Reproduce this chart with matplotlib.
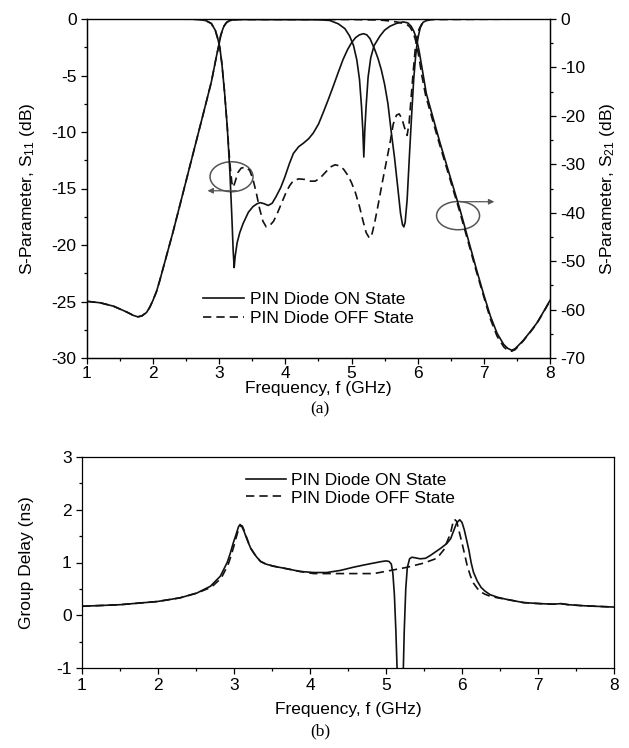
import matplotlib
matplotlib.use("Agg")
import matplotlib.pyplot as plt
from matplotlib.patches import Ellipse

plt.rcParams['font.family'] = ['Liberation Sans', 'DejaVu Sans']
plt.rcParams['mathtext.fontset'] = 'custom'
plt.rcParams['mathtext.rm'] = 'Liberation Sans'
plt.rcParams['mathtext.default'] = 'regular'
plt.rcParams['axes.unicode_minus'] = False

# ---- (a) S-parameters ----
# S11, read on the left axis (dB)
f_s11_on = [1.0, 2.0, 2.6, 2.7, 2.8, 2.88, 2.94, 2.98, 3.01, 3.04, 3.08, 3.12, 3.16, 3.19,
            3.21, 3.225, 3.24, 3.27, 3.31, 3.36, 3.44, 3.51, 3.57, 3.62, 3.68, 3.74, 3.8,
            3.86, 3.93, 3.99, 4.06, 4.12, 4.2, 4.27, 4.35, 4.42, 4.5, 4.57, 4.65, 4.72,
            4.8, 4.87, 4.94, 5.0, 5.06, 5.12, 5.18, 5.23, 5.28, 5.35, 5.4, 5.45, 5.5,
            5.55, 5.6, 5.65, 5.7, 5.74, 5.77, 5.79, 5.81, 5.84, 5.88, 5.91, 5.94, 5.97,
            5.99, 6.01, 6.04, 6.08, 6.14, 6.25, 8.0]
s11_on = [0, 0, -0.02, -0.05, -0.15, -0.4, -1.0, -1.8, -2.6, -4, -6.5, -9.5, -13.5, -17.5,
          -20.5, -22, -21, -19.8, -18.9, -18.1, -17.1, -16.6, -16.35, -16.25, -16.35, -16.5, -16.3,
          -15.7, -14.9, -14, -12.8, -11.9, -11.3, -11, -10.6, -10.1, -9.3, -8.3, -7.1, -6,
          -4.7, -3.6, -2.7, -2.1, -1.65, -1.4, -1.3, -1.4, -1.75, -2.7, -3.5, -4.5, -5.8,
          -7.5, -10, -12.3, -15, -17.2, -18.2, -18.4, -18, -16, -11.5, -8.3, -5.3, -3.2,
          -2.2, -1.5, -0.75, -0.3, -0.1, -0.02, 0]

f_s11_off = [1.0, 2.0, 2.6, 2.7, 2.8, 2.88, 2.94, 2.98, 3.01, 3.04, 3.08, 3.12, 3.16, 3.19,
             3.21, 3.24, 3.28, 3.33, 3.4, 3.46, 3.51, 3.56, 3.61, 3.66, 3.71, 3.76, 3.82,
             3.87, 3.92, 3.97, 4.02, 4.07, 4.12, 4.2, 4.3, 4.38, 4.45, 4.52, 4.6, 4.68,
             4.75, 4.82, 4.88, 4.94, 5.0, 5.06, 5.12, 5.17, 5.22, 5.27, 5.31, 5.35, 5.4,
             5.47, 5.53, 5.58, 5.63, 5.68, 5.72, 5.76, 5.8, 5.84, 5.87, 5.9, 5.93, 5.96,
             5.99, 6.02, 6.06, 6.1, 6.2, 8.0]
s11_off = [0, 0, -0.02, -0.05, -0.15, -0.4, -1.0, -1.8, -2.6, -4, -6.5, -9.5, -12.8, -14.5,
           -14.9, -14.4, -13.6, -13.2, -13.1, -13.4, -14.2, -15.4, -16.8, -17.9, -18.4, -18.3, -17.9,
           -17.3, -16.6, -15.9, -15.2, -14.7, -14.3, -14.15, -14.2, -14.35, -14.35, -14.1, -13.6, -13.1,
           -12.9, -13.0, -13.3, -13.8, -14.5, -15.4, -16.6, -17.8, -18.9, -19.4, -19.0, -18.0, -16.5,
           -14.3, -12.5, -11, -9.3, -8.5, -8.4, -8.8, -9.6, -10.3, -9.2, -7, -4.8, -2.8,
           -1.6, -0.9, -0.45, -0.2, -0.05, 0]

# S21, read on the right axis (dB)
f_s21_on = [1.0, 1.2, 1.4, 1.6, 1.7, 1.77, 1.83, 1.9, 1.95, 2.0, 2.05, 2.1, 2.15, 2.3,
            2.45, 2.6, 2.75, 2.88, 2.96, 3.0, 3.02, 3.05, 3.07, 3.1, 3.12, 3.16, 3.2, 3.3,
            4.5, 4.67, 4.8, 4.9, 4.97, 5.03, 5.08, 5.12, 5.15, 5.17, 5.185, 5.2, 5.22, 5.25,
            5.29, 5.34, 5.43, 5.5, 5.58, 5.68, 5.78, 5.85, 5.9, 5.94, 5.98, 6.02, 6.07, 6.13,
            6.34, 6.64, 6.89, 7.0, 7.1, 7.2, 7.3, 7.36, 7.42, 7.47, 7.53, 7.6, 7.7, 7.8,
            7.9, 8.0]
s21_on = [-58.3, -58.6, -59.3, -60.5, -61.2, -61.5, -61.3, -60.6, -59.5, -58, -56.3, -54, -51.5, -44,
          -36, -28, -20, -13, -7.5, -5, -3.5, -2.2, -1.5, -0.9, -0.6, -0.35, -0.2, -0.1,
          -0.15, -0.3, -1.0, -2.0, -3.5, -5.5, -8.5, -12.5, -18, -23, -28.5, -23, -18, -12,
          -8, -5.5, -3.5, -2.3, -1.5, -0.9, -0.6, -0.8, -1.5, -2.5, -4, -6.5, -10.5, -15.4,
          -25.7, -39.4, -51.8, -57, -61.4, -64.9, -67.2, -68.0, -68.4, -68.1, -67.3, -66.3, -64.6, -62.8,
          -60.5, -58.1]

f_s21_off = [1.0, 1.2, 1.4, 1.6, 1.7, 1.77, 1.83, 1.9, 1.95, 2.0, 2.05, 2.1, 2.15, 2.3,
             2.45, 2.6, 2.75, 2.88, 2.96, 3.0, 3.02, 3.05, 3.07, 3.1, 3.12, 3.16, 3.2, 3.3,
             5.0, 5.4, 5.5, 5.6, 5.7, 5.78, 5.84, 5.88, 5.92, 5.95, 5.98, 6.02, 6.06, 6.12,
             6.3, 6.64, 6.89, 7.1, 7.2, 7.3, 7.36, 7.42, 7.47, 7.53, 7.6, 7.7, 7.8, 7.9, 8.0]
s21_off = [-58.3, -58.6, -59.3, -60.5, -61.2, -61.5, -61.3, -60.6, -59.5, -58, -56.3, -54, -51.5, -44,
           -36, -28, -20, -13, -7.5, -5, -3.5, -2.2, -1.5, -0.9, -0.6, -0.35, -0.2, -0.1,
           -0.1, -0.2, -0.3, -0.45, -0.65, -0.9, -1.2, -1.6, -2.5, -3.6, -5, -8, -11.5, -15.8,
           -24.5, -40, -52.3, -62, -65.5, -67.7, -68.4, -68.6, -68.3, -67.5, -66.4, -64.7, -62.9, -60.6, -58.2]

# ---- (b) group delay (ns) ----
f_gd_on = [1.0, 1.5, 1.99, 2.29, 2.51, 2.69, 2.82, 2.91, 2.95, 2.99, 3.02, 3.06, 3.08, 3.1,
           3.13, 3.16, 3.19, 3.22, 3.26, 3.3, 3.35, 3.42, 3.52, 3.7, 3.87, 4.05, 4.22, 4.4,
           4.57, 4.7, 4.84, 4.95, 5.0, 5.04, 5.07, 5.09, 5.11, 5.13, 5.15, 5.18, 5.22, 5.24,
           5.26, 5.28, 5.31, 5.34, 5.38, 5.45, 5.52, 5.58, 5.65, 5.72, 5.8, 5.85, 5.89, 5.93,
           5.97, 6.0, 6.03, 6.06, 6.09, 6.12, 6.15, 6.2, 6.25, 6.3, 6.37, 6.47, 6.59, 6.81,
           7.03, 7.2, 7.3, 7.4, 7.6, 8.0]
gd_on = [0.17, 0.2, 0.26, 0.33, 0.42, 0.55, 0.74, 1.0, 1.17, 1.37, 1.5, 1.68, 1.72, 1.69,
         1.6, 1.48, 1.37, 1.27, 1.18, 1.1, 1.02, 0.97, 0.93, 0.88, 0.83, 0.81, 0.81, 0.85,
         0.91, 0.95, 0.99, 1.02, 1.03, 1.02, 0.97, 0.8, 0.4, -0.3, -1.2, -3.0, -1.5, -0.3,
         0.5, 0.9, 1.07, 1.1, 1.09, 1.07, 1.08, 1.13, 1.2, 1.27, 1.36, 1.45, 1.6, 1.75,
         1.81, 1.76, 1.62, 1.43, 1.24, 1.0, 0.82, 0.65, 0.53, 0.46, 0.39, 0.34, 0.3, 0.24,
         0.22, 0.21, 0.22, 0.2, 0.18, 0.155]

f_gd_off = [1.0, 1.5, 1.99, 2.29, 2.51, 2.7, 2.83, 2.92, 2.96, 3.0, 3.03, 3.06, 3.09, 3.11,
            3.13, 3.16, 3.19, 3.22, 3.26, 3.3, 3.35, 3.42, 3.52, 3.7, 3.87, 4.05, 4.4, 4.84,
            5.1, 5.28, 5.5, 5.67, 5.76, 5.8, 5.85, 5.88, 5.9, 5.93, 5.96, 6.0, 6.04, 6.07,
            6.11, 6.15, 6.2, 6.24, 6.3, 6.37, 6.47, 6.59, 6.81, 7.03, 7.2, 7.3, 7.4, 7.6, 8.0]
gd_off = [0.17, 0.2, 0.26, 0.33, 0.42, 0.53, 0.7, 0.95, 1.12, 1.32, 1.48, 1.63, 1.7, 1.69,
          1.62, 1.5, 1.38, 1.27, 1.18, 1.1, 1.02, 0.97, 0.93, 0.88, 0.83, 0.79, 0.79, 0.79,
          0.86, 0.91, 0.99, 1.08, 1.24, 1.38, 1.56, 1.75, 1.82, 1.78, 1.6, 1.37, 1.12, 0.93,
          0.75, 0.61, 0.51, 0.45, 0.4, 0.36, 0.33, 0.3, 0.24, 0.22, 0.21, 0.22, 0.2, 0.18, 0.155]

on_label = 'PIN Diode ON State'
off_label = 'PIN Diode OFF State'

fs = 12.5
lc = '#111111'
dash = (0, (5, 3))

fig = plt.figure(figsize=(6.29, 7.48), dpi=100)

ax1 = fig.add_axes([87 / 629, 1 - 358 / 748, 463 / 629, 339 / 748])
ax2 = ax1.twinx()

l_on, = ax1.plot(f_s11_on, s11_on, color=lc, lw=1.2, label=on_label)
l_off, = ax1.plot(f_s11_off, s11_off, color=lc, lw=1.2, ls=dash, label=off_label)
ax2.plot(f_s21_on, s21_on, color=lc, lw=1.2)
ax2.plot(f_s21_off, s21_off, color=lc, lw=1.2, ls=dash)

ax1.set_xlim(1, 8)
ax1.set_ylim(-30, 0)
ax2.set_ylim(-70, 0)
ax1.set_xticks(range(1, 9))
ax1.set_xticks([x + 0.5 for x in range(1, 8)], minor=True)
ax1.set_yticks(range(-30, 1, 5))
ax1.set_yticks([-27.5, -22.5, -17.5, -12.5, -7.5, -2.5], minor=True)
ax2.set_yticks(range(-70, 1, 10))
ax2.set_yticks(range(-65, 0, 10), minor=True)

ax1.set_xlabel('Frequency, f (GHz)', fontsize=fs, labelpad=0)
ax1.set_ylabel('S-Parameter, S$_{11}$ (dB)', fontsize=fs, labelpad=10)
ax2.set_ylabel('S-Parameter, S$_{21}$ (dB)', fontsize=fs, labelpad=9)

# annotation circles and arrows
ax1.add_patch(Ellipse((3.185, -13.96), 0.65, 2.65, fill=False, ec='#555555', lw=1.1))
ax1.annotate('', xy=(2.78, -15.2), xytext=(3.3, -15.2),
             arrowprops=dict(arrowstyle='-|>', color='#555555', lw=0.9, mutation_scale=8))
ax1.add_patch(Ellipse((6.61, -17.4), 0.65, 2.5, fill=False, ec='#555555', lw=1.1))
ax1.annotate('', xy=(7.2, -16.17), xytext=(6.6, -16.17),
             arrowprops=dict(arrowstyle='-|>', color='#555555', lw=0.9, mutation_scale=8))

ax1.legend(handles=[l_on, l_off], loc='center left', bbox_to_anchor=(0.235, 0.145),
           frameon=False, fontsize=fs, handlelength=2.4, handletextpad=0.3,
           labelspacing=0.2, borderpad=0.4, borderaxespad=0)

for ax in (ax1, ax2):
    ax.tick_params(which='major', direction='out', length=4, width=0.9, labelsize=fs, pad=3.5)
    ax.tick_params(which='minor', direction='out', length=2.5, width=0.9)
    for s in ax.spines.values():
        s.set_linewidth(0.9)
ax1.tick_params(axis='x', top=False, pad=2)
ax1.spines['top'].set_color('#777777')

fig.text(320 / 629, 1 - 409 / 748, '(a)', fontsize=fs, family='Liberation Serif',
         ha='center', va='center')

# ---- (b) ----
ax3 = fig.add_axes([82 / 629, 1 - 668 / 748, 532 / 629, 211 / 748])
g_on, = ax3.plot(f_gd_on, gd_on, color=lc, lw=1.2, label=on_label)
g_off, = ax3.plot(f_gd_off, gd_off, color=lc, lw=1.2, ls=dash, label=off_label)
ax3.set_xlim(1, 8)
ax3.set_ylim(-1, 3)
ax3.set_xticks(range(1, 9))
ax3.set_xticks([x + 0.5 for x in range(1, 8)], minor=True)
ax3.set_yticks(range(-1, 4))
ax3.set_yticks([-0.5, 0.5, 1.5, 2.5], minor=True)
ax3.set_xlabel('Frequency, f (GHz)', fontsize=fs, labelpad=6)
ax3.set_ylabel('Group Delay (ns)', fontsize=fs, labelpad=16)
ax3.tick_params(which='major', direction='out', length=4, width=0.9, labelsize=fs, pad=3.5)
ax3.tick_params(which='minor', direction='out', length=2.5, width=0.9)
for s in ax3.spines.values():
    s.set_linewidth(0.9)
ax3.legend(handles=[g_on, g_off], loc='center left', bbox_to_anchor=(0.295, 0.848),
           frameon=False, fontsize=fs, handlelength=2.3, handletextpad=0.3,
           labelspacing=0.15, borderpad=0.4, borderaxespad=0)

fig.text(320 / 629, 1 - 731 / 748, '(b)', fontsize=fs, family='Liberation Serif',
         ha='center', va='center')

fig.savefig('out.png', dpi=100)
